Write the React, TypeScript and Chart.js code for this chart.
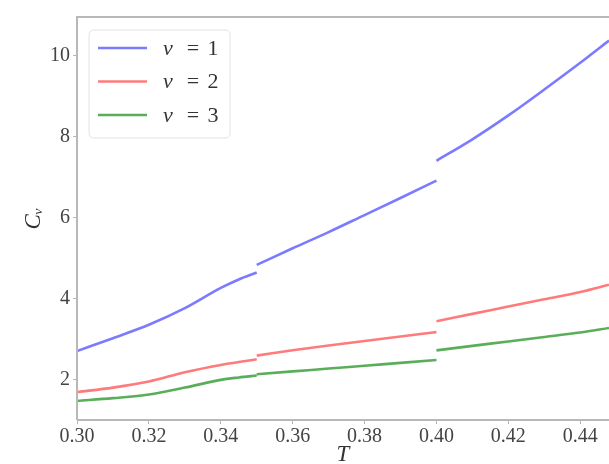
import React, { useEffect, useRef } from "react";
import { Chart, registerables } from "chart.js";

Chart.register(...registerables);

// Temperature samples for each of the three branches
const T_SEG1 = [0.3, 0.31, 0.32, 0.33, 0.34, 0.345, 0.35];
const T_SEG2 = [0.35, 0.36, 0.37, 0.38, 0.39, 0.4];
const T_SEG3 = [0.4, 0.41, 0.42, 0.43, 0.44, 0.448];

const NU1_SEG1 = [2.7, 3.02, 3.35, 3.76, 4.26, 4.47, 4.64];
const NU1_SEG2 = [4.83, 5.24, 5.64, 6.06, 6.48, 6.91];
const NU1_SEG3 = [7.4, 7.93, 8.52, 9.16, 9.82, 10.37];

const NU2_SEG1 = [1.69, 1.8, 1.95, 2.18, 2.36, 2.43, 2.5];
const NU2_SEG2 = [2.59, 2.72, 2.84, 2.95, 3.06, 3.17];
const NU2_SEG3 = [3.44, 3.62, 3.8, 3.98, 4.16, 4.34];

const NU3_SEG1 = [1.47, 1.54, 1.63, 1.8, 1.99, 2.05, 2.1];
const NU3_SEG2 = [2.13, 2.2, 2.27, 2.34, 2.41, 2.48];
const NU3_SEG3 = [2.72, 2.83, 2.94, 3.05, 3.16, 3.27];

const SERIES_NUMS = ["1", "2", "3"];
const SERIES_LABELS = ["ν = 1", "ν = 2", "ν = 3"];
const SERIES_COLORS = ["#7b7bff", "#ff7b7b", "#5aae5a"];

const X_TICKS = [0.3, 0.32, 0.34, 0.36, 0.38, 0.4, 0.42, 0.44];
const Y_TICKS = [2, 4, 6, 8, 10];

const X_MIN = 0.3;
const X_MAX = 0.448;
const Y_MIN = 1.0;
const Y_MAX = 10.95;

function buildSeries(segs: number[][]) {
  const tSegs = [T_SEG1, T_SEG2, T_SEG3];
  const out: { x: number; y: number | null }[] = [];
  segs.forEach((vals, i) => {
    if (i > 0) out.push({ x: tSegs[i][0], y: null });
    vals.forEach((v, j) => out.push({ x: tSegs[i][j], y: v }));
  });
  return out;
}

const SERIF = "'Liberation Serif', 'DejaVu Serif', serif";

export default function App() {
  const ref = useRef<HTMLCanvasElement | null>(null);

  useEffect(() => {
    document.body.style.margin = "0";
    const canvas = ref.current;
    if (!canvas) return;

    const framePlugin = {
      id: "frame",
      afterDraw(chart: any) {
        const { ctx, chartArea: a } = chart;
        ctx.save();
        ctx.strokeStyle = "#b8b8b8";
        ctx.lineWidth = 2;
        ctx.beginPath();
        ctx.moveTo(a.left, a.bottom);
        ctx.lineTo(a.left, a.top);
        ctx.lineTo(a.right + 5, a.top);
        ctx.moveTo(a.left, a.bottom);
        ctx.lineTo(a.right + 5, a.bottom);
        ctx.stroke();

        // legend box
        const bx = a.left + 12;
        const by = a.top + 13;
        const bw = 141;
        const bh = 108;
        const r = 5;
        ctx.fillStyle = "rgba(255,255,255,0.85)";
        ctx.strokeStyle = "#e2e2e2";
        ctx.lineWidth = 1;
        ctx.beginPath();
        ctx.moveTo(bx + r, by);
        ctx.lineTo(bx + bw - r, by);
        ctx.quadraticCurveTo(bx + bw, by, bx + bw, by + r);
        ctx.lineTo(bx + bw, by + bh - r);
        ctx.quadraticCurveTo(bx + bw, by + bh, bx + bw - r, by + bh);
        ctx.lineTo(bx + r, by + bh);
        ctx.quadraticCurveTo(bx, by + bh, bx, by + bh - r);
        ctx.lineTo(bx, by + r);
        ctx.quadraticCurveTo(bx, by, bx + r, by);
        ctx.closePath();
        ctx.fill();
        ctx.stroke();

        SERIES_LABELS.forEach((label, i) => {
          const y = by + 18 + i * 33.5;
          ctx.strokeStyle = SERIES_COLORS[i];
          ctx.lineWidth = 2.5;
          ctx.beginPath();
          ctx.moveTo(bx + 9, y);
          ctx.lineTo(bx + 58, y);
          ctx.stroke();
          ctx.fillStyle = "#333";
          ctx.textBaseline = "middle";
          ctx.textAlign = "left";
          ctx.font = `italic 22px ${SERIF}`;
          ctx.fillText(label.slice(0, 1), bx + 74, y + 1);
          ctx.font = `22px ${SERIF}`;
          ctx.textAlign = "center";
          ctx.fillText("=", bx + 104, y + 1);
          ctx.fillText(SERIES_NUMS[i], bx + 124, y + 1);
        });
        ctx.restore();
      },
    };

    const seriesData = [
      [NU1_SEG1, NU1_SEG2, NU1_SEG3],
      [NU2_SEG1, NU2_SEG2, NU2_SEG3],
      [NU3_SEG1, NU3_SEG2, NU3_SEG3],
    ];

    const chart = new Chart(canvas, {
      type: "line",
      data: {
        datasets: seriesData.map((segs, i) => ({
          label: SERIES_LABELS[i],
          data: buildSeries(segs),
          borderColor: SERIES_COLORS[i],
          backgroundColor: SERIES_COLORS[i],
          borderWidth: 2.6,
          pointRadius: 0,
          cubicInterpolationMode: "monotone" as const,
          spanGaps: false,
          fill: false,
        })),
      },
      options: {
        animation: false,
        responsive: false,
        layout: { padding: { left: 0, right: 0, top: 17, bottom: 0 } },
        plugins: {
          legend: { display: false },
          tooltip: { enabled: false },
        },
        scales: {
          x: {
            type: "linear",
            min: X_MIN,
            max: X_MAX,
            afterBuildTicks: (axis: any) => {
              axis.ticks = X_TICKS.map((v) => ({ value: v }));
            },
            afterFit: (axis: any) => {
              axis.height = 44;
            },
            grid: {
              drawOnChartArea: false,
              drawTicks: true,
              tickLength: 4,
              color: "#b8b8b8",
            },
            border: { display: false },
            ticks: {
              font: { family: SERIF, size: 20 },
              color: "#444",
              padding: 1,
              maxRotation: 0,
              callback: (v: any) => Number(v).toFixed(2),
            },
            title: {
              display: true,
              text: "T",
              font: { family: SERIF, size: 23, style: "italic" },
              color: "#333",
              padding: { top: 0, bottom: -5 },
            },
          },
          y: {
            type: "linear",
            min: Y_MIN,
            max: Y_MAX,
            afterBuildTicks: (axis: any) => {
              axis.ticks = Y_TICKS.map((v) => ({ value: v }));
            },
            afterFit: (axis: any) => {
              axis.width = 77;
            },
            grid: {
              drawOnChartArea: false,
              drawTicks: true,
              tickLength: 4,
              color: "#b8b8b8",
            },
            border: { display: false },
            ticks: {
              font: { family: SERIF, size: 20 },
              color: "#444",
              padding: 3,
            },
            title: {
              display: true,
              text: "Cᵥ",
              font: { family: SERIF, size: 23, style: "italic" },
              color: "#333",
              padding: { top: 20, bottom: 0 },
            },
          },
        },
      },
      plugins: [framePlugin],
    });

    return () => chart.destroy();
  }, []);

  return (
    <div style={{ width: 609, height: 464, overflow: "hidden" }}>
      <canvas ref={ref} width={609} height={464} style={{ display: "block" }} />
    </div>
  );
}
